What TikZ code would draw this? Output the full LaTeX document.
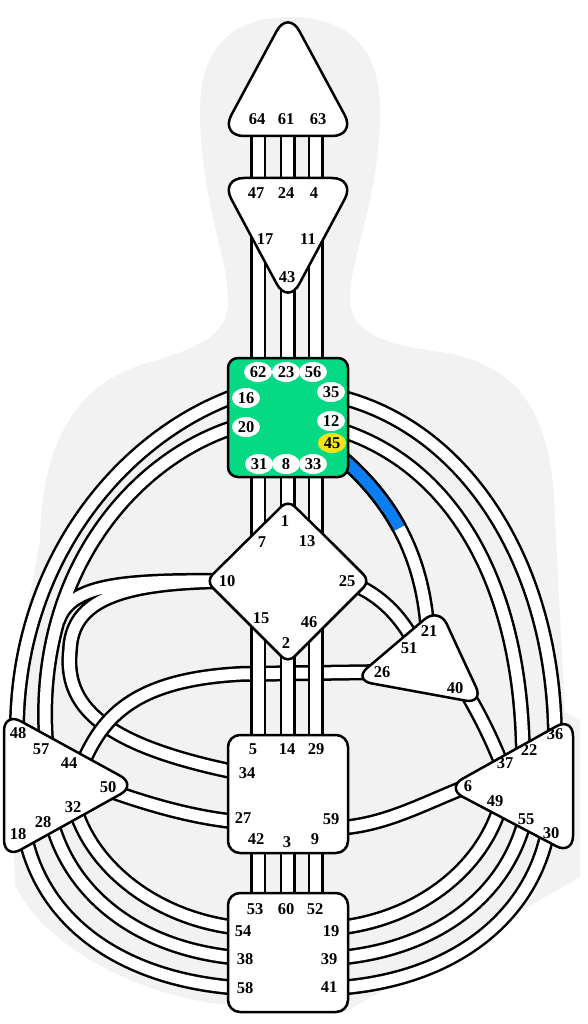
\documentclass[tikz,border=0pt]{standalone}
\usepackage{fontspec}
\setmainfont{Liberation Serif}
\usetikzlibrary{shapes.geometric}
\definecolor{fondo}{HTML}{F2F2F2}
\definecolor{verdegar}{HTML}{06D983}
\definecolor{azulcanal}{HTML}{0A7EF2}
\definecolor{amarillo}{HTML}{F4E21A}

\begin{document}
\begin{tikzpicture}[x=1pt, y=-1pt,
    num/.style={font=\bfseries\fontsize{16.5}{17}\selectfont, inner sep=0pt},
    burbuja/.style={num, ellipse, fill=white, minimum width=28pt, minimum height=20pt},
    centro/.style={draw, line width=2.5pt, fill=white, rounded corners=12pt},
    tri/.style={centro, rounded corners=19pt},
    canal/.style={double=white, double distance=11pt, line width=2.5pt},
  ]
  \useasboundingbox (0,0) rectangle (587,1024);

  % =============== SILUETA =============================================
  \fill[fondo] (290,17) .. controls (350,17) and (380,50) .. (380,110)
    .. controls (380,200) and (350,255) .. (350,300)
    .. controls (350,335) and (390,345) .. (440,352)
    .. controls (525,365) and (553,420) .. (555,520)
    -- (565,712) -- (580,720) -- (580,877) -- (343,1013) -- (232,1005)
    .. controls (150,1000) and (45,950) .. (15,885)
    -- (10,712) -- (40,540)
    .. controls (42,430) and (85,380) .. (150,362)
    .. controls (210,345) and (228,330) .. (228,300)
    .. controls (228,255) and (200,200) .. (200,110)
    .. controls (200,50) and (230,17) .. (290,17) -- cycle;

  % =============== EXTREMOS DE CANAL ===================================
  % --- columna central ---
  \coordinate (k64) at (258,125);   \coordinate (k47) at (258,190);
  \coordinate (k61) at (287.5,125); \coordinate (k24) at (287.5,190);
  \coordinate (k63) at (315.5,125); \coordinate (k4)  at (315.5,190);
  \coordinate (k17) at (258,215);   \coordinate (k62) at (258,372);
  \coordinate (k43) at (287.5,270); \coordinate (k23) at (287.5,372);
  \coordinate (k11) at (315.5,215); \coordinate (k56) at (315.5,372);
  \coordinate (k31) at (258,462);   \coordinate (k7)  at (258,560);
  \coordinate (k8)  at (287.5,462); \coordinate (k1)  at (287.5,530);
  \coordinate (k33) at (315.5,462); \coordinate (k13) at (315.5,560);
  \coordinate (k15) at (258,600);   \coordinate (k5)  at (258,750);
  \coordinate (k2)  at (287.5,630); \coordinate (k14) at (287.5,750);
  \coordinate (k46) at (315.5,600); \coordinate (k29) at (315.5,750);
  \coordinate (k42) at (258,840);   \coordinate (k53) at (258,905);
  \coordinate (k3)  at (287.5,840); \coordinate (k60) at (287.5,905);
  \coordinate (k9)  at (315.5,840); \coordinate (k52) at (315.5,905);
  % --- lado izquierdo ---
  \coordinate (k16) at (235,396);   \coordinate (k48) at (17,735);
  \coordinate (k20) at (235,427);   \coordinate (k57) at (47,752);
  \coordinate (k10) at (228,581);   \coordinate (k34) at (240,773);
  \coordinate (union10) at (58,621);
  \coordinate (k44) at (80,770);    \coordinate (k26) at (385,672);
  \coordinate (k50) at (108,790);   \coordinate (k27) at (240,822);
  \coordinate (k18) at (24,830);    \coordinate (k58) at (240,988);
  \coordinate (k28) at (50,815);    \coordinate (k38) at (240,958);
  \coordinate (k32) at (74,805);    \coordinate (k54) at (240,928);
  % --- lado derecho ---
  \coordinate (k35) at (340,397);   \coordinate (k36) at (555,740);
  \coordinate (k12) at (340,430);   \coordinate (k22) at (523,758);
  \coordinate (k45) at (342,458);   \coordinate (k21) at (428,640);
  \coordinate (k25) at (350,583);   \coordinate (k51) at (413,640);
  \coordinate (k40) at (465,690);   \coordinate (k37) at (502,765);
  \coordinate (k59) at (338,828);   \coordinate (k6)  at (468,786);
  \coordinate (k49) at (502,800);   \coordinate (k19) at (336,928);
  \coordinate (k55) at (526,815);   \coordinate (k39) at (336,958);
  \coordinate (k30) at (548,830);   \coordinate (k41) at (336,988);

  % =============== CANALES =============================================
  % --- cabeza, ajna, garganta ---
  \draw[canal] (k64) -- (k47);  \draw[canal] (k61) -- (k24);  \draw[canal] (k63) -- (k4);
  \draw[canal] (k17) -- (k62);  \draw[canal] (k43) -- (k23);  \draw[canal] (k11) -- (k56);

  % --- lazo del 10 (un solo trazo para que se fundan) ---
  \draw[canal] (k20) .. controls (130,460) and (30,580) .. (k57)
               (k10) .. controls (120,580) and (70,585) .. (union10)
               (k10) .. controls (120,582) and (72,600) .. (70,650)
                     .. controls (64,705) and (100,745) .. (k34);
  \draw[canal] (k44) .. controls (100,720) and (130,680) .. (240,674) -- (k26);

  % --- bazo ---
  \draw[canal] (k16) .. controls (115,440) and (15,570) .. (k48);
  \draw[canal] (k50) .. controls (150,805) and (195,818) .. (k27);
  \draw[canal] (k18) .. controls (40,920) and (120,980) .. (k58);
  \draw[canal] (k28) .. controls (68,895) and (140,950) .. (k38);
  \draw[canal] (k32) .. controls (92,870) and (160,920) .. (k54);

  % --- plexo solar y ego ---
  \draw[canal] (k35) .. controls (470,430) and (555,570) .. (k36);
  \draw[canal] (k12) .. controls (450,465) and (522,580) .. (k22);
  \draw[canal] (k25) .. controls (375,592) and (398,612) .. (k51);
  \draw[canal] (k40) .. controls (478,712) and (490,735) .. (k37);
  \draw[canal] (k59) .. controls (385,825) and (420,805) .. (k6);
  \draw[canal] (k49) .. controls (484,870) and (416,920) .. (k19);
  \draw[canal] (k55) .. controls (508,895) and (436,950) .. (k39);
  \draw[canal] (k30) .. controls (532,915) and (456,980) .. (k41);

  % --- 45-21, mitad activada ---
  \draw[canal] (k45) .. controls (385,495) and (425,550) .. (k21);
  \begin{scope}
    \clip (374.6,541.1) -- (427.4,512.9) -- (427,440) -- (330,440) -- (330,541) -- cycle;
    \draw[canal, double=azulcanal] (k45) .. controls (385,495) and (425,550) .. (k21);
  \end{scope}

  % --- verticales G y sacro ---
  \draw[canal] (k31) -- (k7);   \draw[canal] (k8) -- (k1);    \draw[canal] (k33) -- (k13);
  \draw[canal] (k15) -- (k5);   \draw[canal] (k2) -- (k14);   \draw[canal] (k46) -- (k29);
  \draw[canal] (k42) -- (k53);  \draw[canal] (k3) -- (k60);   \draw[canal] (k9) -- (k52);

  % =============== CENTROS =============================================
  % (cada contorno empieza a mitad de un lado para redondear todas las esquinas)
  \draw[tri, rounded corners=24pt] (288,136) -- (220,136) -- (288,10) -- (356,136) -- cycle;
  \draw[tri, rounded corners=24pt] (288,178) -- (356,178) -- (288,305) -- (220,178) -- cycle;
  \draw[centro, fill=verdegar, rounded corners=10pt] (228,358) rectangle (348,477);
  \draw[centro, rounded corners=9pt] (329,540) -- (370,581) -- (288,663) -- (206,581) -- (288,500) -- cycle;
  \draw[tri] (461,655) -- (484,704) -- (353,680) -- (439,607) -- cycle;
  \draw[tri] (4,785) -- (4,712) -- (137,785) -- (4,859) -- cycle;
  \draw[tri] (573,785) -- (573,855) -- (446,788) -- (573,717) -- cycle;
  \draw[centro] (228,735) rectangle (348,853);
  \draw[centro] (228,893) rectangle (348,1012);

  % =============== PUERTAS =============================================
  % --- cabeza y ajna ---
  \node[num] (g64) at (257,119) {64};  \node[num] (g61) at (286,119) {61};
  \node[num] (g63) at (318,119) {63};
  \node[num] (g47) at (256,193) {47};  \node[num] (g24) at (286,193) {24};
  \node[num] (g4)  at (314,193) {4};
  \node[num] (g17) at (265,239) {17};  \node[num] (g11) at (308,239) {11};
  \node[num] (g43) at (287,277) {43};

  % --- garganta ---
  \node[burbuja] (g62) at (258,372) {62};  \node[burbuja] (g23) at (286,372) {23};
  \node[burbuja] (g56) at (313,372) {56};  \node[burbuja] (g35) at (331,392) {35};
  \node[burbuja] (g16) at (246,398) {16};  \node[burbuja] (g12) at (331,421) {12};
  \node[burbuja] (g20) at (246,427) {20};
  \node[burbuja, fill=amarillo] (g45) at (332,443) {45};
  \node[burbuja] (g31) at (259,464) {31};  \node[burbuja] (g8)  at (286,464) {8};
  \node[burbuja] (g33) at (313,464) {33};

  % --- G ---
  \node[num] (g1)  at (285,521) {1};   \node[num] (g7)  at (262,542) {7};
  \node[num] (g13) at (307,541) {13};  \node[num] (g10) at (227,581) {10};
  \node[num] (g25) at (347,581) {25};  \node[num] (g15) at (261,618) {15};
  \node[num] (g46) at (309,622) {46};  \node[num] (g2)  at (286,643) {2};

  % --- ego ---
  \node[num] (g21) at (429,631) {21};  \node[num] (g51) at (409,648) {51};
  \node[num] (g26) at (382,672) {26};  \node[num] (g40) at (455,688) {40};

  % --- bazo ---
  \node[num] (g48) at (18,733) {48};   \node[num] (g57) at (41,749) {57};
  \node[num] (g44) at (69,763) {44};   \node[num] (g50) at (108,787) {50};
  \node[num] (g32) at (73,807) {32};   \node[num] (g28) at (43,822) {28};
  \node[num] (g18) at (18,834) {18};

  % --- plexo solar ---
  \node[num] (g36) at (555,734) {36};  \node[num] (g22) at (529,750) {22};
  \node[num] (g37) at (505,763) {37};  \node[num] (g6)  at (468,786) {6};
  \node[num] (g49) at (495,801) {49};  \node[num] (g55) at (526,819) {55};
  \node[num] (g30) at (551,833) {30};

  % --- sacro ---
  \node[num] (g5)  at (253,749) {5};   \node[num] (g14) at (287,749) {14};
  \node[num] (g29) at (316,749) {29};  \node[num] (g34) at (247,773) {34};
  \node[num] (g27) at (243,818) {27};  \node[num] (g59) at (331,819) {59};
  \node[num] (g42) at (256,839) {42};  \node[num] (g3)  at (287,842) {3};
  \node[num] (g9)  at (315,839) {9};

  % --- raíz ---
  \node[num] (g53) at (255,909) {53};  \node[num] (g60) at (286,909) {60};
  \node[num] (g52) at (315,909) {52};  \node[num] (g54) at (243,931) {54};
  \node[num] (g19) at (331,931) {19};  \node[num] (g38) at (245,959) {38};
  \node[num] (g39) at (329,959) {39};  \node[num] (g58) at (245,988) {58};
  \node[num] (g41) at (329,987) {41};
\end{tikzpicture}
\end{document}
